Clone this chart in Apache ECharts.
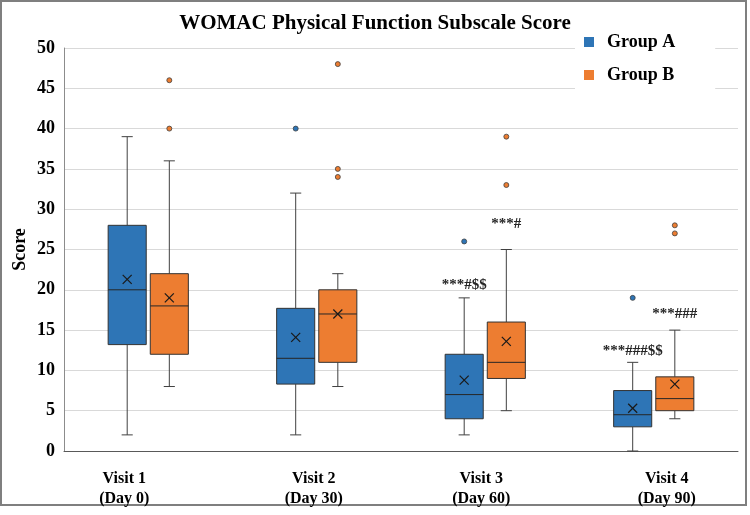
<!DOCTYPE html>
<html>
<head>
<meta charset="utf-8">
<script src="https://cdn.jsdelivr.net/npm/echarts@6/dist/echarts.min.js"></script>
<style>
  body { margin: 0; background: #fff; }
  #main { width: 750px; height: 515px; }
</style>
</head>
<body>
<div id="main"></div>
<script>
  // 分类与数据
  const categories = ['Visit 1\n(Day 0)', 'Visit 2\n(Day 30)', 'Visit 3\n(Day 60)', 'Visit 4\n(Day 90)'];
  const groupNames = ['Group A', 'Group B'];
  // [min, Q1, median, Q3, max]
  const boxA = [[2, 13.2, 20, 28, 39], [2, 8.3, 11.5, 17.7, 32], [2, 4, 7, 12, 19], [0, 3, 4.5, 7.5, 11]];
  const boxB = [[8, 12, 18, 22, 36], [8, 11, 17, 20, 22], [5, 9, 11, 16, 25], [4, 5, 6.5, 9.2, 15]];
  const meanA = [21.3, 14.1, 8.8, 5.3];
  const meanB = [19, 17, 13.6, 8.3];
  // [visit index, value]
  const outliersA = [[1, 40], [2, 26], [3, 19]];
  const outliersB = [[0, 46], [0, 40], [1, 48], [1, 35], [1, 34], [2, 39], [2, 33], [3, 28], [3, 27]];
  // [visit index, y, text]
  const notesA = [[2, 20.6, '***#$$'], [3, 12.4, '***###$$']];
  const notesB = [[2, 28.2, '***#'], [3, 17, '***###']];

  const colors = ['#2E75B6', '#ED7D31'];
  const font = "'Liberation Serif', 'Times New Roman', serif";
  const offsets = [-0.125, 0.125]; // 相对类目宽度
  // x轴标签在原图中略有偏移
  const labelPad = [[0, 48, 0, 0], [0, 6, 0, 0], [0, 8, 0, 0], [0, 0, 0, 26]];

  function boxRender(offset, color) {
    return function (params, api) {
      const i = api.value(0);
      const band = api.size([1, 0])[0];
      const x = api.coord([i, 0])[0] + offset * band;
      const w = band * 0.226;
      const cap = band * 0.066;
      const y = [1, 2, 3, 4, 5].map(k => api.coord([i, api.value(k)])[1]);
      const ym = api.coord([i, api.value(6)])[1];
      const ln = { stroke: '#404040', lineWidth: 1 };
      const m = 4.5;
      return {
        type: 'group',
        children: [
          { type: 'line', shape: { x1: x, y1: y[0], x2: x, y2: y[1] }, style: ln },
          { type: 'line', shape: { x1: x, y1: y[3], x2: x, y2: y[4] }, style: ln },
          { type: 'line', shape: { x1: x - cap / 2, y1: y[0], x2: x + cap / 2, y2: y[0] }, style: ln },
          { type: 'line', shape: { x1: x - cap / 2, y1: y[4], x2: x + cap / 2, y2: y[4] }, style: ln },
          { type: 'rect', shape: { x: x - w / 2, y: y[3], width: w, height: y[1] - y[3] },
            style: { fill: color, stroke: '#333', lineWidth: 1 } },
          { type: 'line', shape: { x1: x - w / 2, y1: y[2], x2: x + w / 2, y2: y[2] }, style: { stroke: '#262626', lineWidth: 1 } },
          { type: 'line', shape: { x1: x - m, y1: ym - m, x2: x + m, y2: ym + m }, style: { stroke: '#1a1a1a', lineWidth: 1.2 } },
          { type: 'line', shape: { x1: x - m, y1: ym + m, x2: x + m, y2: ym - m }, style: { stroke: '#1a1a1a', lineWidth: 1.2 } }
        ]
      };
    };
  }

  function dotRender(offset, color) {
    return function (params, api) {
      const band = api.size([1, 0])[0];
      const p = api.coord([api.value(0), api.value(1)]);
      return {
        type: 'circle',
        shape: { cx: p[0] + offset * band, cy: p[1], r: 2.5 },
        style: { fill: color, stroke: '#404040', lineWidth: 0.8 }
      };
    };
  }

  function noteRender(offset, notes) {
    return function (params, api) {
      const band = api.size([1, 0])[0];
      const p = api.coord([api.value(0), api.value(1)]);
      return {
        type: 'text',
        x: p[0] + offset * band,
        y: p[1],
        style: {
          text: notes[params.dataIndex][2],
          font: 'bold 15px ' + font,
          fill: '#262626',
          align: 'center',
          verticalAlign: 'middle'
        }
      };
    };
  }

  function boxData(box, mean) {
    return box.map((b, i) => [i].concat(b).concat([mean[i]]));
  }

  const groups = [
    { box: boxA, mean: meanA, out: outliersA, notes: notesA },
    { box: boxB, mean: meanB, out: outliersB, notes: notesB }
  ];

  const series = [];
  groups.forEach((g, k) => {
    series.push({
      name: groupNames[k],
      type: 'custom',
      itemStyle: { color: colors[k] },
      renderItem: boxRender(offsets[k], colors[k]),
      encode: { x: 0, y: [1, 2, 3, 4, 5, 6] },
      data: boxData(g.box, g.mean),
      z: 2
    });
    series.push({
      name: groupNames[k],
      type: 'custom',
      itemStyle: { color: colors[k] },
      renderItem: dotRender(offsets[k], colors[k]),
      encode: { x: 0, y: 1 },
      data: g.out,
      z: 3
    });
    series.push({
      name: groupNames[k],
      type: 'custom',
      itemStyle: { color: colors[k] },
      renderItem: noteRender(offsets[k], g.notes),
      encode: { x: 0, y: 1 },
      data: g.notes.map(n => [n[0], n[1]]),
      z: 3
    });
  });

  const labelStyle = { fontFamily: font, fontSize: 16, fontWeight: 'bold', color: '#000', lineHeight: 20 };
  const rich = {};
  labelPad.forEach((p, i) => {
    rich['s' + i] = Object.assign({ padding: p }, labelStyle);
  });

  const myChart = echarts.init(document.getElementById('main'));
  myChart.setOption({
    animation: false,
    title: {
      text: 'WOMAC Physical Function Subscale Score',
      left: 'center',
      top: 8,
      textStyle: { fontFamily: font, fontSize: 21, fontWeight: 'bold', color: '#000' }
    },
    legend: {
      data: groupNames,
      orient: 'vertical',
      left: 575,
      top: 26,
      icon: 'rect',
      itemWidth: 10,
      itemHeight: 10,
      itemGap: 15,
      padding: [7, 40, 12, 9],
      backgroundColor: '#fff',
      textStyle: { fontFamily: font, fontSize: 18, fontWeight: 'bold', color: '#000', padding: [0, 0, 0, 8] }
    },
    grid: { left: 64, right: 12, top: 48, bottom: 64, outerBoundsMode: 'none' },
    xAxis: {
      type: 'category',
      data: categories,
      axisLine: { lineStyle: { color: '#595959' } },
      axisTick: { show: false },
      axisLabel: Object.assign({
        margin: 18,
        formatter: function (value, index) {
          return value.split('\n').map(s => '{s' + index + '|' + s + '}').join('\n');
        },
        rich: rich
      }, labelStyle)
    },
    yAxis: {
      type: 'value',
      min: 0,
      max: 50,
      interval: 5,
      name: 'Score',
      nameLocation: 'middle',
      nameGap: 35,
      nameMoveOverlap: false,
      nameTextStyle: { fontFamily: font, fontSize: 18, fontWeight: 'bold', color: '#000' },
      axisLine: { show: true, lineStyle: { color: '#8c8c8c' } },
      axisTick: { show: false },
      axisLabel: { fontFamily: font, fontSize: 18, fontWeight: 'bold', color: '#000', margin: 9 },
      splitLine: { lineStyle: { color: '#d9d9d9' } }
    },
    graphic: [{
      type: 'rect',
      shape: { x: 1, y: 1, width: 745, height: 504 },
      style: { fill: null, stroke: '#7f7f7f', lineWidth: 2 },
      silent: true
    }],
    series: series
  });
</script>
</body>
</html>
